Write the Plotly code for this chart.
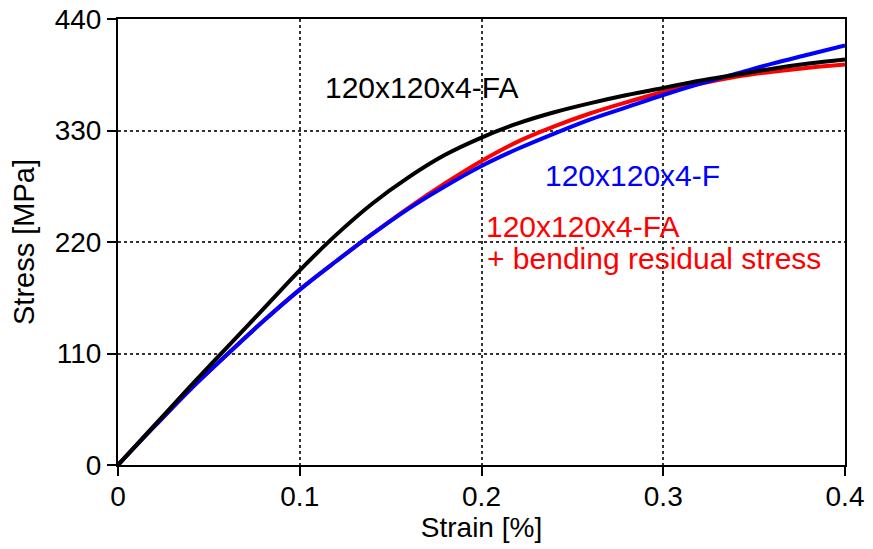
"""Stress-strain curves for 120x120x4 sections (FA, F, FA + bending residual stress)."""

import plotly.graph_objects as go

# --- Data --------------------------------------------------------------------

strain_pct = [0.0, 0.02, 0.04, 0.06, 0.08, 0.10, 0.12, 0.14, 0.16, 0.18, 0.20,
              0.22, 0.24, 0.26, 0.28, 0.30, 0.32, 0.34, 0.36, 0.38, 0.40]

stress_fa = [0, 39, 78, 116, 154, 192, 227, 258, 284, 306, 323,
             337, 348, 357, 365, 372, 379, 385, 391, 396, 400]

stress_f = [0, 38, 75, 109, 142, 173, 201, 228, 253, 275, 295,
            312, 327, 341, 353, 365, 376, 386, 396, 405, 414]

stress_fa_bending = [0, 38, 75, 109, 142, 173, 201, 228, 254, 278, 300,
                     319, 334, 347, 358, 368, 376, 383, 388, 392, 395]

x_ticks = [0, 0.1, 0.2, 0.3, 0.4]
x_tick_labels = ["0", "0.1", "0.2", "0.3", "0.4"]
y_ticks = [0, 110, 220, 330, 440]

FONT = "Liberation Sans, Arial, sans-serif"
COLORS = {"fa": "#000000", "f": "#0000ff", "fa_bending": "#ff0000"}

fig = go.Figure()

# red first, blue over it, black on top (as in the reference)
for y, key in [(stress_fa_bending, "fa_bending"), (stress_f, "f"), (stress_fa, "fa")]:
    fig.add_trace(go.Scatter(
        x=strain_pct, y=y, mode="lines", line_shape="spline",
        line=dict(color=COLORS[key], width=4), showlegend=False,
    ))

# curve labels
label_font = 30
fig.add_annotation(x=0.1128, y=372, text="120x120x4-FA", showarrow=False,
                   xanchor="left", yanchor="middle",
                   font=dict(size=label_font, color=COLORS["fa"], family=FONT))
fig.add_annotation(x=0.234, y=286, text="120x120x4-F", showarrow=False,
                   xanchor="left", yanchor="middle",
                   font=dict(size=label_font, color=COLORS["f"], family=FONT))
fig.add_annotation(x=0.2015, y=235, text="120x120x4-FA", showarrow=False,
                   xanchor="left", yanchor="middle",
                   font=dict(size=label_font, color=COLORS["fa_bending"], family=FONT))
fig.add_annotation(x=0.202, y=204, text="+ bending residual stress", showarrow=False,
                   xanchor="left", yanchor="middle",
                   font=dict(size=label_font, color=COLORS["fa_bending"], family=FONT))

axis_common = dict(
    showline=True, linecolor="black", linewidth=2, mirror=True,
    ticks="outside", ticklen=9, tickwidth=2, tickcolor="black",
    showgrid=True, gridcolor="#333333", gridwidth=1.5, griddash="dot",
    zeroline=False, automargin=False, ticklabeloverflow="allow",
    tickfont=dict(size=28, color="black", family=FONT),
)

fig.update_xaxes(
    range=[0, 0.4], tickvals=x_ticks, ticktext=x_tick_labels,
    ticklabelstandoff=-4,
    title=dict(text="Strain [%]", font=dict(size=28, color="black", family=FONT),
               standoff=0),
    **axis_common,
)
fig.update_yaxes(
    range=[0, 440], tickvals=y_ticks,
    title=dict(text="Stress [MPa]", font=dict(size=29, color="black", family=FONT),
               standoff=12),
    **axis_common,
)

# the page adds an 8px body margin, so the figure is 8px smaller than the window
fig.update_layout(
    width=865, height=541,
    margin=dict(l=110, r=28, t=11, b=84),
    plot_bgcolor="white", paper_bgcolor="white",
    font=dict(family=FONT, color="black"),
)

fig.write_html("out.html")
